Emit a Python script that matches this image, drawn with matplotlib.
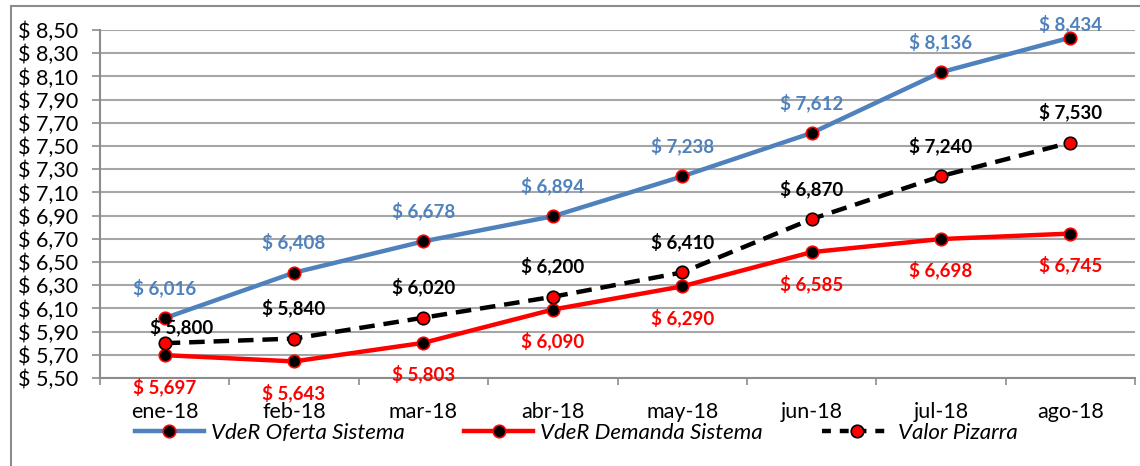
import matplotlib.pyplot as plt
from matplotlib.patches import Rectangle
from matplotlib.lines import Line2D

plt.rcParams['font.family'] = ['Lato', 'DejaVu Sans']

meses = ['ene-18', 'feb-18', 'mar-18', 'abr-18', 'may-18', 'jun-18', 'jul-18', 'ago-18']
oferta = [6.016, 6.408, 6.678, 6.894, 7.238, 7.612, 8.136, 8.434]
demanda = [5.697, 5.643, 5.803, 6.090, 6.290, 6.585, 6.698, 6.745]
pizarra = [5.800, 5.840, 6.020, 6.200, 6.410, 6.870, 7.240, 7.530]

azul = '#4F81BD'
rojo = '#FF0000'
gris = '#8C8C8C'


def fmt(v):
    return '$ ' + f'{v:.3f}'.replace('.', ',')


fig = plt.figure(figsize=(11.4, 4.66), dpi=100)
fig.patches.append(Rectangle((11 / 1140, -0.1), 1.2, 1.1 - 6 / 466, transform=fig.transFigure,
                             fill=False, edgecolor=gris, lw=1.5))
ax = fig.add_axes([100 / 1140, 1 - 378 / 466, 1035 / 1140, 348 / 466])

x = list(range(len(meses)))
ax.plot(x, oferta, color=azul, lw=3.2, marker='o', ms=9, mfc='black', mec=rojo, mew=1.2, zorder=3)
ax.plot(x, demanda, color=rojo, lw=3.2, marker='o', ms=9, mfc='black', mec=rojo, mew=1.2, zorder=3)
ax.plot(x, pizarra, color='black', lw=3.2, ls=(0, (3.5, 2)), marker='o', ms=9, mfc=rojo, mec='black',
        mew=1.2, zorder=4)

lab = dict(ha='center', va='center', fontsize=13.5, fontweight='bold', textcoords='offset points')
for i, v in enumerate(oferta):
    dy = 10 if i == len(oferta) - 1 else 22
    ax.annotate(fmt(v), (i, v), xytext=(0, dy), color=azul, **lab)
for i, v in enumerate(demanda):
    ax.annotate(fmt(v), (i, v), xytext=(0, -22.5), color=rojo, **lab)
for i, v in enumerate(pizarra):
    dx, dy = (12, 12) if i == 0 else (0, 22)
    ax.annotate(fmt(v), (i, v), xytext=(dx, dy), color='black', **lab)

ax.set_xlim(-0.5, len(meses) - 0.5)
ax.set_ylim(5.5, 8.5)
yt = [5.5 + 0.2 * k for k in range(16)]
ax.set_yticks(yt)
ax.set_yticklabels(['$ ' + f'{t:.2f}'.replace('.', ',') for t in yt], fontsize=15.5)
ax.set_xticks(x)
ax.set_xticklabels(meses, fontsize=15.5)
ax.set_xticks([i - 0.5 for i in range(len(meses) + 1)], minor=True)
ax.tick_params(axis='x', which='major', length=0, pad=17)
ax.tick_params(axis='x', which='minor', length=5, color=gris, width=1.2)
ax.tick_params(axis='y', length=6, color=gris, width=1.2, pad=10)
ax.grid(axis='y', color='#A6A6A6', lw=1.5)
ax.set_axisbelow(True)
for s in ['top', 'right']:
    ax.spines[s].set_visible(False)
for s in ['left', 'bottom']:
    ax.spines[s].set_color(gris)
    ax.spines[s].set_linewidth(1.5)

handles = [
    Line2D([], [], color=azul, lw=3.2, marker='o', ms=9, mfc='black', mec=rojo, mew=1.2),
    Line2D([], [], color=rojo, lw=3.2, marker='o', ms=9, mfc='black', mec=rojo, mew=1.2),
    Line2D([], [], color='black', lw=3.2, ls=(0, (2, 2)), marker='o', ms=9, mfc=rojo, mec='black', mew=1.2),
]
fig.legend(handles, ['VdeR Oferta Sistema', 'VdeR Demanda Sistema', 'Valor Pizarra'],
           loc='center left', bbox_to_anchor=(135 / 1140, 1 - 433 / 466), ncol=3, frameon=False,
           prop={'style': 'italic', 'size': 16}, handlelength=3.1, handletextpad=0.3,
           columnspacing=2.7, borderaxespad=0, borderpad=0)

fig.savefig('out.png', dpi=100)
